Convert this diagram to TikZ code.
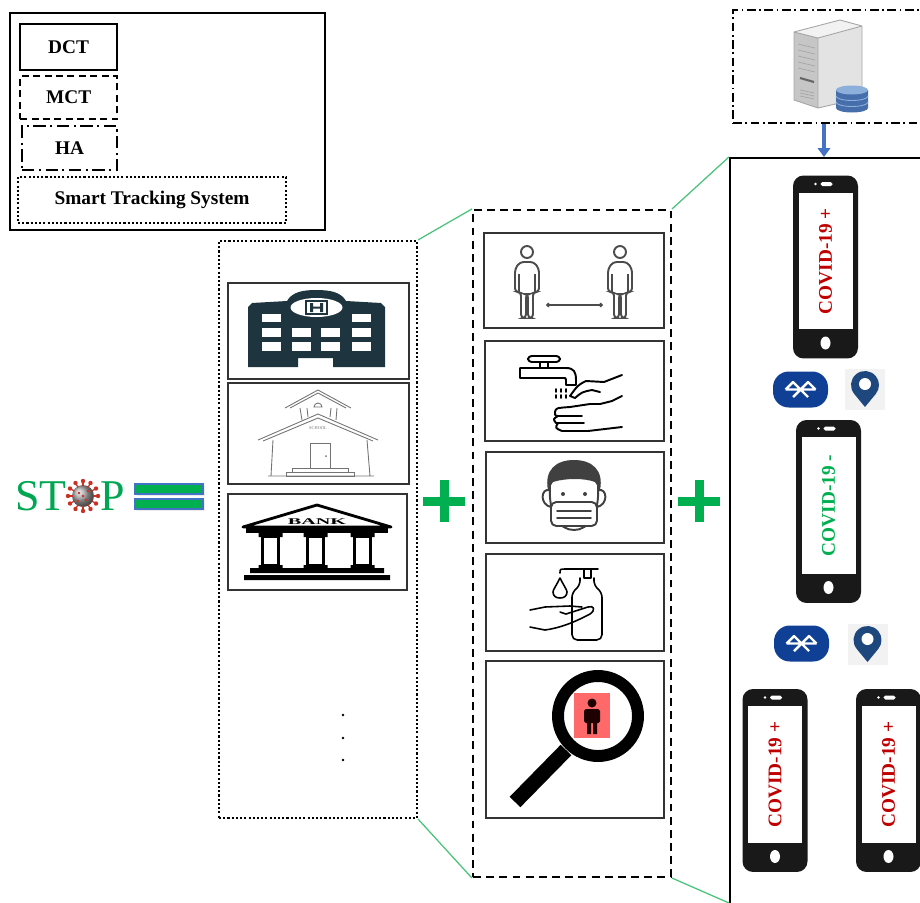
\documentclass[tikz,border=0pt]{standalone}
\usepackage{fontspec}
\setmainfont{Liberation Serif}
\usetikzlibrary{fit,arrows.meta}

\definecolor{stopgreen}{RGB}{0,166,81}
\definecolor{plusgreen}{RGB}{0,176,80}
\definecolor{linkgreen}{RGB}{70,195,120}
\definecolor{arrowblue}{RGB}{68,114,196}
\definecolor{covred}{RGB}{192,0,0}
\definecolor{covgreen}{RGB}{0,176,80}
\definecolor{btblue}{RGB}{16,64,150}
\definecolor{pinblue}{RGB}{30,72,125}
\definecolor{hospdark}{RGB}{30,52,62}
\definecolor{virusred}{RGB}{200,50,35}
\definecolor{dbblue}{RGB}{70,110,170}
\definecolor{dbtop}{RGB}{140,175,220}
\definecolor{alertred}{RGB}{255,105,105}

\tikzset{
  frame/.style={inner sep=0pt,draw},
  keybox/.style={frame,line width=1.3pt,anchor=north west,font=\fontsize{11}{13}\selectfont\bfseries},
  iconbox/.style={frame,line width=0.6pt,draw=black!80},
  link/.style={draw=linkgreen,line width=0.7pt},
  eqbar/.style={frame,fill=plusgreen,draw=arrowblue,line width=0.6pt},
  phone/.style={fill=black!90,rounded corners=6pt,minimum width=1.3cm,
    minimum height=3.66cm,inner sep=0pt},
  screen/.style={fill=white,minimum width=2.74cm,minimum height=1.08cm,
    inner sep=0pt,rotate=90,font=\fontsize{11}{13}\selectfont\bfseries},
  bluetooth/.style={fill=btblue,rounded corners=9pt,minimum width=1.1cm,
    minimum height=0.72cm,inner sep=0pt},
  pinbg/.style={fill=black!5,minimum width=0.8cm,minimum height=0.82cm,inner sep=0pt},
  iconline/.style={line width=1.1pt,line join=round,line cap=round},
  plussign/.pic={\fill (-21,-4.5) rectangle (21,4.5); \fill (-4.5,-21) rectangle (4.5,21);},
  btsign/.pic={\draw[white,line width=1.4pt,line join=round]
    (-15,0) -- (15,0) (-15,0) -- (-7.5,-7.5) -- (7.5,7.5) (15,0) -- (7.5,-7.5) -- (-7.5,7.5);},
  pinmark/.pic={\fill[pinblue] (0,18) -- (-10.81,4.9) arc[start angle=140.5,end angle=399.5,radius=14] -- cycle;
    \fill[white] (0,-5) circle (6);},
  person/.pic={\draw (0,0) circle (6);
    \draw[rounded corners=2pt] (-6,66) -- (-6,40) -- (-12,40) -- (-12,17) -- (-7,10) -- (7,10)
      -- (12,17) -- (12,40) -- (6,40) -- (6,66) -- (1,66) -- (1,42) -- (-1,42) -- (-1,66) -- cycle;
    \draw (-8,22) -- (-8,40) (8,22) -- (8,40);},
  virus/.pic={\shade[ball color=gray!70] (0,0) circle (11);
    \foreach \a in {0,30,...,330}{\draw[virusred,line width=0.7pt] (\a:10) -- (\a:14);
      \fill[virusred] (\a:15) circle (2.2);}
    \foreach \p in {(-4,-3),(3,4),(5,-5),(-5,5),(0,0)} \fill[virusred] \p circle (1.4);},
}

\begin{document}
\begin{tikzpicture}[x=0.02cm,y=-0.02cm]
\useasboundingbox (0,0) rectangle (920,903);
\clip (0,0) rectangle (920,903);

% key
\node[frame,line width=0.6pt,fit={(10,13) (325,230)}] (legend) {};
\node[keybox,minimum width=1.94cm,minimum height=0.92cm] (dct) at (19,23) {DCT};
\node[keybox,dash pattern=on 4pt off 2.5pt,minimum width=1.94cm,minimum height=0.86cm] (mct) at (19,75) {MCT};
\node[keybox,dash pattern=on 7pt off 2.5pt on 1.3pt off 2.5pt,minimum width=1.9cm,minimum height=0.88cm] (ha) at (21,125) {HA};
\node[keybox,line width=1.2pt,dash pattern=on 1.2pt off 1.2pt,minimum width=5.36cm,minimum height=0.92cm] (sts) at (17,176) {Smart Tracking System};

% stop =
\node[anchor=base east,inner sep=0pt,text=stopgreen,font=\fontsize{25}{25}\selectfont] (stopst) at (67,510) {ST};
\pic at (83,496) {virus};
\node[anchor=base west,inner sep=0pt,text=stopgreen,font=\fontsize{25}{25}\selectfont] (stopp) at (100,510) {P};
\fill[black!12] (136.5,485.5) rectangle (204.5,495.5) (136.5,500.5) rectangle (204.5,510.5);
\node[eqbar,fit={(135,484) (203,494)}] (eqtop) {};
\node[eqbar,fit={(135,499) (203,509)}] (eqbot) {};

% places
\node[frame,line width=1.2pt,dash pattern=on 1.2pt off 1.2pt,fit={(219,241) (417,818)}] (col1) {};
\node[iconbox,fit={(228,283) (409,379)}] (hosp) {};
\node[iconbox,fit={(228,383) (409,484)}] (school) {};
\node[iconbox,fit={(228,494) (407,590)}] (bank) {};
\foreach \d in {715,738,760} \fill (343,\d) circle (1.4);

\fill[hospdark] (248,307) -- (252,303) -- (287,301) .. controls (292,292) and (303,290) .. (316,290)
  .. controls (330,290) and (341,292) .. (346,301) -- (381,303) -- (385,307) -- (385,367)
  -- (333,367) -- (333,358) -- (298,358) -- (298,367) -- (248,367) -- cycle;
\fill[white] (316.5,307.5) ellipse (26 and 9.5);
\draw[hospdark,line width=0.9pt] (306,301) rectangle (327,314);
\fill[hospdark] (310,303) rectangle (313,312) (320,303) rectangle (323,312) (313,306.5) rectangle (320,308.5);
\foreach \wx in {262,352} \fill[white] (\wx,314) rectangle ++(19,8);
\foreach \wx in {262,292,321,352}
  \foreach \wy in {328,342} \fill[white] (\wx,\wy) rectangle ++(19,9);

\begin{scope}[draw=black!55,line width=0.5pt]
\draw (258,440) -- (318,414) -- (378,440) (263,441) -- (318,418) -- (373,441);
\draw (285,408) -- (318,390) -- (351,408) (290,408) -- (318,393) -- (346,408);
\draw (300,408) -- (302,420) (307,408) -- (308,417) (330,417) -- (331,408) (336,420) -- (337,408);
\draw (314,407) arc[start angle=180,end angle=360,radius=4] -- cycle;
\draw (273,440) -- (271,476) (367,440) -- (370,476) (268,476) -- (374,476);
\draw (310,468) -- (310,443) -- (330,443) -- (330,468);
\fill[black!55] (326,456) circle (1);
\draw (292,468) rectangle (348,472) (286,472) rectangle (354,476);
\node[inner sep=0pt,text=black!55,font=\fontsize{2.5}{3}\selectfont] (schooltxt) at (318,428) {SCHOOL};
\end{scope}

\draw[line width=1.6pt,line join=round] (243,527) -- (317,505) -- (391,527) -- cycle;
\node[inner sep=0pt] (banktxt) at (317,521.5) {\scalebox{2.3}[1]{\fontsize{5}{5}\selectfont\bfseries BANK}};
\fill (246,527) rectangle (388,533);
\foreach \cx in {270.5,315.5,362.5}{
  \draw[line width=1.8pt] (\cx-8,536) rectangle (\cx+8,566);
  \fill (\cx-12,533) rectangle (\cx+12,537) (\cx-12,565) rectangle (\cx+12,568);}
\fill (250,568) rectangle (384,573) (244,575) rectangle (390,580);

\pic[plusgreen] at (444,501) {plussign};

% measures
\node[frame,line width=1.2pt,dash pattern=on 4.5pt off 3pt,fit={(473,210) (671,877)}] (col2) {};
\node[iconbox,fit={(484,233) (664,328)}] (distance) {};
\node[iconbox,fit={(485,341) (664,441)}] (wash) {};
\node[iconbox,fit={(486,452) (664,543)}] (mask) {};
\node[iconbox,fit={(486,554) (664,651)}] (sanitizer) {};
\node[iconbox,fit={(486,661) (664,818)}] (search) {};

\begin{scope}[draw=black!70,line width=1.1pt]
\pic at (527,252) {person};
\pic at (620,252) {person};
\end{scope}
\draw[black!70,line width=0.6pt,{Circle[length=2.5pt]}-{Circle[length=2.5pt]}] (546,305) -- (603,305);

\begin{scope}[iconline]
\draw[rounded corners=2pt] (528,362) -- (528,356) -- (560,356) -- (560,362) -- cycle;
\draw (540,362) -- (540,368) (548,362) -- (548,368);
\draw (520,368) -- (566,368) .. controls (574,368) and (576,372) .. (576,380) -- (576,385)
  -- (566,385) -- (566,380) .. controls (566,378) .. (562,378) -- (520,378) -- cycle;
\foreach \dx in {556,561,566} \draw (\dx,389) -- (\dx,392) (\dx,395) -- (\dx,398);
\draw (622,375) -- (604,382) -- (586,381) .. controls (578,385) .. (570,396) -- (575,398)
  .. controls (582,392) .. (592,390) -- (600,392);
\draw (622,396) -- (612,401) -- (600,404) -- (590,404);
\draw (590,404) -- (570,407) .. controls (556,408) .. (555,412) .. controls (555,416) .. (560,416) -- (582,416);
\draw (558,416) .. controls (553,419) .. (556,423) -- (584,423);
\draw (558,423) .. controls (555,428) .. (562,431) -- (588,431) -- (622,427);
\end{scope}

\begin{scope}[iconline,draw=black!75]
\fill[black!75] (548,490) .. controls (544,470) and (556,460) .. (574,460) .. controls (592,460) and (604,470) .. (600,490)
  -- (595,482) .. controls (585,478) and (565,478) .. (553,482) -- cycle;
\draw (550,485) .. controls (548,515) and (560,530) .. (574,530) .. controls (588,530) and (600,515) .. (598,485);
\draw (550,490) .. controls (540,488) and (540,505) .. (551,507) (598,490) .. controls (608,488) and (608,505) .. (597,507);
\fill[black!75] (563,494) circle (2) (585,494) circle (2);
\draw[fill=white,rounded corners=3pt] (551,502) rectangle (597,526);
\draw (557,511) -- (591,511) (557,518) -- (591,518);
\end{scope}

\begin{scope}[iconline,line width=0.9pt]
\draw (560,573) .. controls (560,569) .. (566,569) -- (598,569);
\draw (584,569) rectangle (591,578);
\draw[rounded corners=3pt] (580,578) -- (580,586) -- (572,592) -- (572,640) -- (602,640) -- (602,592) -- (594,586) -- (594,578);
\draw (560,578) .. controls (556,586) and (553,590) .. (553,592) .. controls (553,596) and (556,598) .. (560,598)
  .. controls (564,598) and (567,596) .. (567,592) .. controls (567,590) and (564,586) .. (560,578);
\draw (530,610) -- (545,607) -- (570,606) -- (582,607);
\draw (530,627) -- (545,630) .. controls (560,628) and (575,622) .. (590,614) .. controls (596,610) and (594,605) .. (588,607)
  -- (566,614) -- (560,612);
\end{scope}

\fill[alertred] (574,693) rectangle (610,738);
\draw[line width=6.8pt] (598,716) circle (40);
\draw[line width=8.5pt] (566,750) -- (515,802);
\begin{scope}[black!70!red!40!black]
\fill (592,703) circle (4.5);
\fill[rounded corners=1pt] (584,709) rectangle (600,723);
\fill (587,721) rectangle (591,734) (593,721) rectangle (597,734);
\end{scope}

\pic[plusgreen] at (699,501) {plussign};

% tracking side
\node[frame,line width=1.2pt,fit={(730,158) (960,960)}] (col3) {};
\node[frame,line width=0.6pt,dash pattern=on 5pt off 2pt on 1pt off 2pt,fit={(733,10) (925,123)}] (server) {};
\coordinate (srv) at (824,60);
\coordinate (col3foot) at (729,903);

\fill[gray!45] (794,32) -- (818,38) -- (818,108) -- (794,100) -- cycle;
\fill[gray!22] (818,38) -- (862,26) -- (862,98) -- (818,108) -- cycle;
\fill[gray!10] (794,32) -- (840,20) -- (862,26) -- (818,38) -- cycle;
\draw[gray!70,line width=0.5pt] (794,32) -- (840,20) -- (862,26) -- (862,98) -- (818,108) -- (794,100) -- cycle
  (794,32) -- (818,38) -- (818,108) (818,38) -- (862,26);
\foreach \k in {0,...,4} \draw[gray!70,line width=0.4pt] (798,{44+6*\k}) -- (815,{48+6*\k});
\draw[black!60,line width=1.2pt] (800,78) -- (814,82);
\foreach \k in {0,1,2} \draw[gray!70,line width=0.4pt] (800,{90+3*\k}) -- (814,{93+3*\k});
\fill[dbblue] (836,90) -- (836,108) arc[start angle=180,end angle=0,x radius=16,y radius=4.5] -- (868,90) -- cycle;
\foreach \dy in {96,102} \draw[dbtop,line width=0.5pt] (836,\dy) arc[start angle=180,end angle=0,x radius=16,y radius=4.5];
\fill[dbtop] (852,90) ellipse (16 and 4.5);

\draw[arrowblue,line width=2.3pt,-{Triangle[width=7pt,length=5pt]}] (server.south -| srv) -- (col3.north -| srv);

\foreach \n/\x/\y/\c/\s in {ph1/825.5/267/covred/+,ph2/828.5/511.5/covgreen/-,
                             ph3/775/780.5/covred/+,ph4/888.5/780.5/covred/+}{
  \node[phone] (\n) at (\x,\y) {};
  \node[screen,text=\c] (\n-scr) at (\x,{\y-6}) {COVID-19 \s};
  \fill[white,rounded corners=1pt] ({\x-5},{\y-85}) rectangle ({\x+7},{\y-81});
  \fill[white] ({\x-10},{\y-83}) circle (1.3);
  \fill[white] (\x,{\y+76}) ellipse (5 and 6.5);
}

\foreach \b/\bx/\by/\p/\px/\py in {bt1/800.5/389.5/pin1/865/389,bt2/801.5/643.5/pin2/867.5/644}{
  \node[bluetooth] (\b) at (\bx,\by) {};
  \pic at (\b) {btsign};
  \node[pinbg] (\p) at (\px,\py) {};
  \pic at (\p) {pinmark};
}

\draw[link] (col1.north east) -- (col2.north west);
\draw[link] (col1.south east) -- (col2.south west);
\draw[link] (col2.north east) -- (col3.north west);
\draw[link] (col2.south east) -- (col3foot);
\end{tikzpicture}
\end{document}
